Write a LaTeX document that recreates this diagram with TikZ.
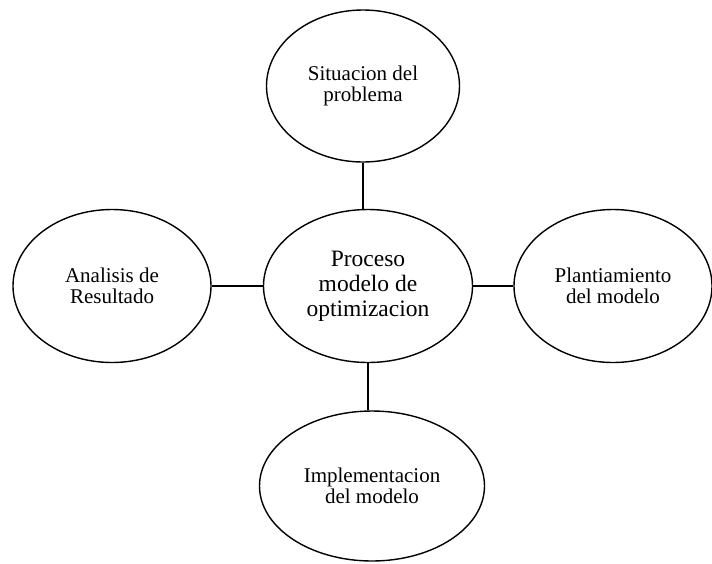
\documentclass[tikz,border=0pt]{standalone}
\usepackage{fontspec}
\setmainfont{Liberation Serif}
\usetikzlibrary{shapes.geometric}
\begin{document}
\begin{tikzpicture}[x=1pt,y=-1pt,line width=1.4pt]
  % optimization process map
  \useasboundingbox (0,0) rectangle (712,563);
  \tikzset{bubble/.style={ellipse,draw,inner sep=0pt,align=center,font=\fontsize{21}{21.5}\selectfont}}
  \node[bubble,minimum width=209pt,minimum height=153pt,font=\fontsize{23.5}{25}\selectfont] (mid) at (368,286) {Proceso\\modelo de\\optimizacion};
  \node[bubble,minimum width=193pt,minimum height=152pt] (top) at (363,86) {Situacion del\\problema};
  \node[bubble,minimum width=198pt,minimum height=153pt] (left) at (112,286) {Analisis de\\Resultado};
  \node[bubble,minimum width=198pt,minimum height=153pt] (right) at (613,286) {Plantiamiento\\del modelo};
  \node[bubble,minimum width=225pt,minimum height=150pt] (bot) at (372,486) {Implementacion\\del modelo};

  \draw (top.south) -- (top.south |- mid.north);
  \draw (mid.south) -- (mid.south |- bot.north);
  \draw (left.east) -- (mid.west);
  \draw (mid.east) -- (right.west);
\end{tikzpicture}
\end{document}
